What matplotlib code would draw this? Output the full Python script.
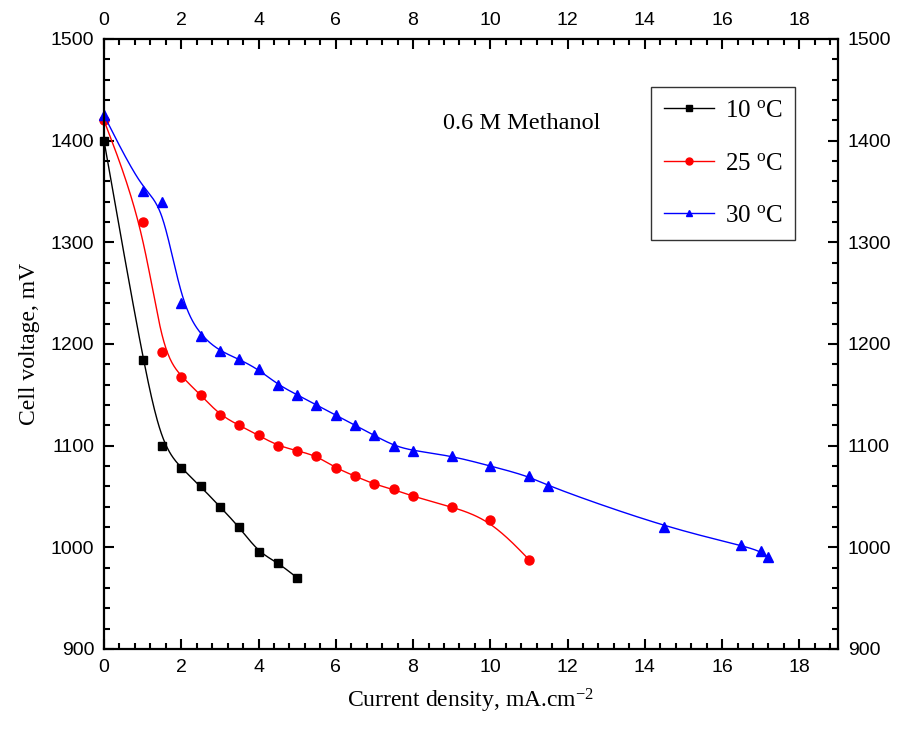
import numpy as np
import matplotlib
matplotlib.use("Agg")
import matplotlib.pyplot as plt
from matplotlib.ticker import MultipleLocator

plt.rcParams['mathtext.fontset'] = 'custom'
plt.rcParams['mathtext.rm'] = 'Liberation Serif'
plt.rcParams['mathtext.it'] = 'Liberation Serif:italic'

x10 = [0, 1, 1.5, 2, 2.5, 3, 3.5, 4, 4.5, 5]
y10 = [1400, 1184, 1100, 1078, 1060, 1040, 1020, 995, 985, 970]

x25 = [0, 1, 1.5, 2, 2.5, 3, 3.5, 4, 4.5, 5, 5.5, 6, 6.5, 7, 7.5, 8, 9, 10, 11]
y25 = [1420, 1320, 1192, 1168, 1150, 1130, 1120, 1110, 1100, 1095, 1090, 1078,
       1070, 1062, 1057, 1050, 1040, 1027, 988]

x30 = [0, 1, 1.5, 2, 2.5, 3, 3.5, 4, 4.5, 5, 5.5, 6, 6.5, 7, 7.5, 8, 9, 10, 11,
       11.5, 14.5, 16.5, 17, 17.2]
y30 = [1425, 1350, 1340, 1240, 1208, 1193, 1185, 1175, 1160, 1150, 1140, 1130,
       1120, 1110, 1100, 1095, 1090, 1080, 1070, 1060, 1020, 1002, 996, 990]

labels = ['10 $^{\\mathrm{o}}$C', '25 $^{\\mathrm{o}}$C', '30 $^{\\mathrm{o}}$C']
colors = ['black', 'red', 'blue']
markers = ['s', 'o', '^']


def bspline(xs, ys, n=30):
    P = np.column_stack([xs, ys]).astype(float)
    P = np.vstack([P[0], P[0], P, P[-1], P[-1]])
    out = []
    t = np.linspace(0, 1, n)
    for i in range(len(P) - 3):
        p0, p1, p2, p3 = P[i], P[i + 1], P[i + 2], P[i + 3]
        b0 = (1 - t) ** 3 / 6
        b1 = (3 * t ** 3 - 6 * t ** 2 + 4) / 6
        b2 = (-3 * t ** 3 + 3 * t ** 2 + 3 * t + 1) / 6
        b3 = t ** 3 / 6
        seg = np.outer(b0, p0) + np.outer(b1, p1) + np.outer(b2, p2) + np.outer(b3, p3)
        out.append(seg)
    S = np.vstack(out)
    return S[:, 0], S[:, 1]


fig = plt.figure(figsize=(8.97, 7.35), dpi=100)
ax = fig.add_axes([104 / 897, 1 - 649 / 735, (838 - 104) / 897, (649 - 39) / 735])

for xs, ys, c, m, lab in zip([x10, x25, x30], [y10, y25, y30], colors, markers, labels):
    sx, sy = bspline(xs, ys)
    ax.plot(sx, sy, color=c, lw=1.0, clip_on=False)
    ax.plot(xs, ys, linestyle='none', marker=m, color=c, ms=6.5 if m != 's' else 5.5,
            clip_on=False)
    ax.plot([], [], color=c, marker=m, ms=5, lw=1.0, label=lab)

ax.set_xlim(0, 19)
ax.set_ylim(900, 1500)
ax.xaxis.set_major_locator(MultipleLocator(2))
ax.xaxis.set_minor_locator(MultipleLocator(0.4))
ax.yaxis.set_major_locator(MultipleLocator(100))
ax.yaxis.set_minor_locator(MultipleLocator(20))
ax.tick_params(which='both', direction='in', top=True, right=True,
               labeltop=True, labelright=True, width=1.5)
ax.tick_params(which='major', length=7, labelsize=14, pad=7)
ax.tick_params(which='minor', length=4)
for lbl in ax.get_xticklabels() + ax.get_yticklabels():
    lbl.set_fontfamily('Liberation Sans')
for s in ax.spines.values():
    s.set_linewidth(1.6)

ax.set_xlabel('Current density, mA.cm$^{\\mathrm{-2}}$', family='Liberation Serif',
              fontsize=17, labelpad=8)
ax.set_ylabel('Cell voltage, mV', family='Liberation Serif', fontsize=17, labelpad=8)

ax.text(10.8, 1417, '0.6 M Methanol', family='Liberation Serif', fontsize=17.5,
        ha='center', va='center')

leg = ax.legend(loc='upper left', bbox_to_anchor=((651 - 104) / 734, 1 - (87 - 39) / 610),
                prop={'family': 'Liberation Serif', 'size': 18}, frameon=True,
                fancybox=False, edgecolor='black', handlelength=2.0,
                borderaxespad=0, labelspacing=1.2, handletextpad=0.45,
                borderpad=0.5)
leg.get_frame().set_linewidth(1.0)

fig.savefig('out.png', dpi=100)
